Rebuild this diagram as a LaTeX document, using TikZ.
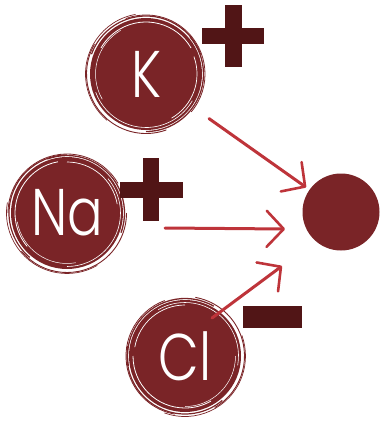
\documentclass[tikz,border=0pt]{standalone}
\usepackage{fontspec}
\setmainfont{Poppins Light}[FakeStretch=0.8]
\usetikzlibrary{arrows.meta}
\definecolor{ionred}{HTML}{7A2427}
\definecolor{plusred}{HTML}{511516}
\definecolor{arrred}{HTML}{BE343A}
\tikzset{
  ion/.style={circle, fill=ionred, minimum size=112pt, inner sep=0pt, text=white,
    font=\fontsize{66}{66}\selectfont},
  sinkdot/.style={circle, fill=ionred, minimum size=77pt, inner sep=0pt},
  bar/.style={fill=plusred, draw=none},
  arr/.style={draw=arrred, line width=3pt, line cap=round,
    -{Straight Barb[length=17pt, width=36pt, line width=2.6pt, round]}},
}
\newcommand\ionring[2]{%
  \foreach \a/\b/\r/\w/\c in {20/160/58/1.2/ionred, 150/290/59.5/0.9/ionred,
      270/400/57.5/1.3/ionred, 100/230/60.5/0.7/ionred, 320/470/59/0.8/ionred,
      30/150/52/0.8/white, 200/330/53.5/0.6/white, 120/210/50.5/0.5/white,
      300/380/51/0.7/white}{
    \draw[\c, line width=\w pt]
      ([shift={(\a+#2:\r pt)}]#1.center) arc[start angle=\a+#2, end angle=\b+#2, radius=\r pt];
  }%
}
\begin{document}
\begin{tikzpicture}[x=1pt, y=-1pt]
  \useasboundingbox (0,0) rectangle (380,423);
  % ions
  \node[ion] (K) at (146,74) {K};
  \node[ion] (Na) at (67,213) {Na};
  \node[ion] (Cl) at (185,356) {Cl};
  \node[sinkdot] (sink) at (341,212) {};
  \ionring{K}{0}
  \ionring{Na}{70}
  \ionring{Cl}{150}
  % charges
  \fill[bar] (202,28) rectangle (264,44);
  \fill[bar] (225,5) rectangle (242,67);
  \fill[bar] (120,182) rectangle (183,198);
  \fill[bar] (143,158) rectangle (159,221);
  \fill[bar] (243,306) rectangle (302,328);
  % arrow end points
  \coordinate (naS) at (165,228);
  \coordinate (naE) at (285,229);
  \coordinate (clS) at (212,318);
  \coordinate (clE) at (282,266);
  % arrows
  \draw[arr, shorten <=21pt, shorten >=4pt] (K) -- (sink);
  \draw[arr] (naS) -- (naE);
  \draw[arr] (clS) -- (clE);
\end{tikzpicture}
\end{document}
